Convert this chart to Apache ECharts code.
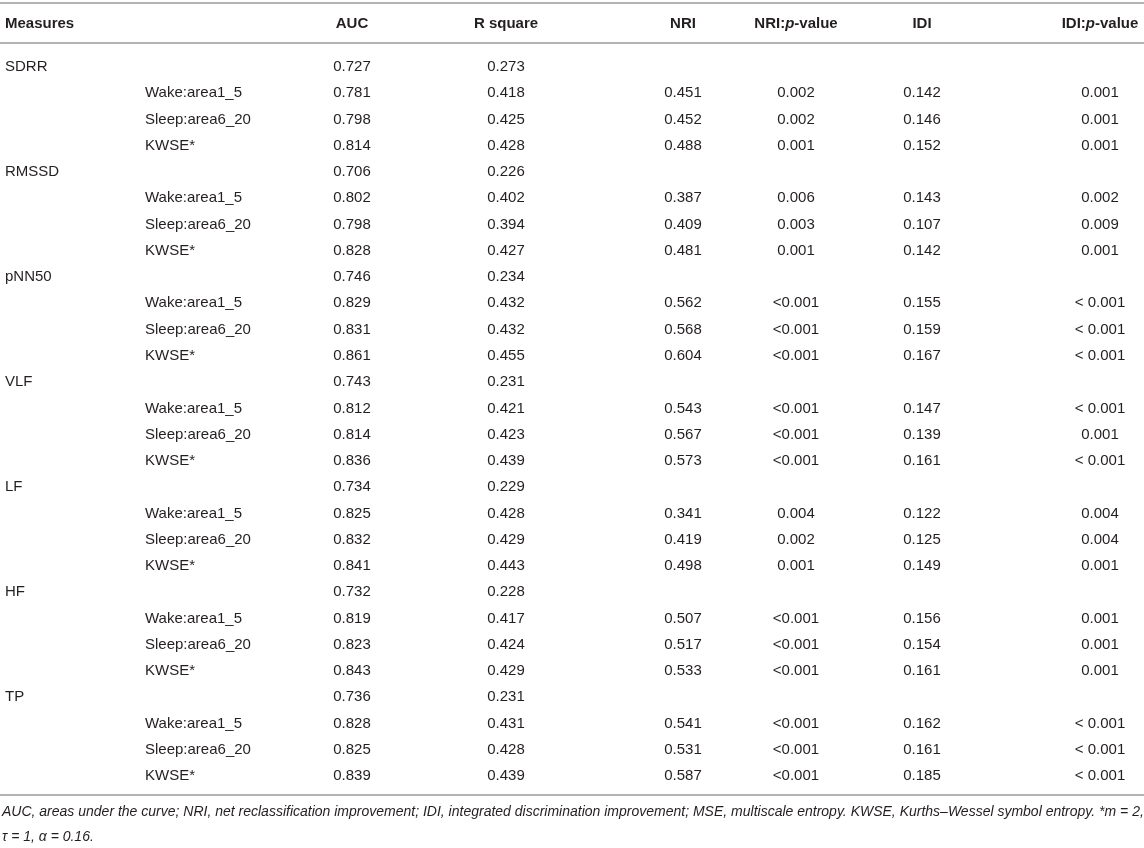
<!DOCTYPE html>
<html>
<head>
<meta charset="utf-8">
<script src="https://cdn.jsdelivr.net/npm/echarts@6/dist/echarts.min.js"></script>
<style>
  html, body { margin: 0; padding: 0; background: #fff; }
  #chart { width: 1144px; height: 848px; }
</style>
</head>
<body>
<div id="chart"></div>
<script>
// table content
var headers = ['Measures', '', 'AUC', 'R square', 'NRI', 'NRI:{i|p}-value', 'IDI', 'IDI:{i|p}-value'];
var measures = ['SDRR', 'RMSSD', 'pNN50', 'VLF', 'LF', 'HF', 'TP'];
var variants = ['Wake:area1_5', 'Sleep:area6_20', 'KWSE*'];

// one row per measure, then its 3 variants
var auc = [
  0.727, 0.781, 0.798, 0.814,
  0.706, 0.802, 0.798, 0.828,
  0.746, 0.829, 0.831, 0.861,
  0.743, 0.812, 0.814, 0.836,
  0.734, 0.825, 0.832, 0.841,
  0.732, 0.819, 0.823, 0.843,
  0.736, 0.828, 0.825, 0.839
];
var rSquare = [
  0.273, 0.418, 0.425, 0.428,
  0.226, 0.402, 0.394, 0.427,
  0.234, 0.432, 0.432, 0.455,
  0.231, 0.421, 0.423, 0.439,
  0.229, 0.428, 0.429, 0.443,
  0.228, 0.417, 0.424, 0.429,
  0.231, 0.431, 0.428, 0.439
];
var nri = [
  null, 0.451, 0.452, 0.488,
  null, 0.387, 0.409, 0.481,
  null, 0.562, 0.568, 0.604,
  null, 0.543, 0.567, 0.573,
  null, 0.341, 0.419, 0.498,
  null, 0.507, 0.517, 0.533,
  null, 0.541, 0.531, 0.587
];
var nriP = [
  null, '0.002', '0.002', '0.001',
  null, '0.006', '0.003', '0.001',
  null, '<0.001', '<0.001', '<0.001',
  null, '<0.001', '<0.001', '<0.001',
  null, '0.004', '0.002', '0.001',
  null, '<0.001', '<0.001', '<0.001',
  null, '<0.001', '<0.001', '<0.001'
];
var idi = [
  null, 0.142, 0.146, 0.152,
  null, 0.143, 0.107, 0.142,
  null, 0.155, 0.159, 0.167,
  null, 0.147, 0.139, 0.161,
  null, 0.122, 0.125, 0.149,
  null, 0.156, 0.154, 0.161,
  null, 0.162, 0.161, 0.185
];
var idiP = [
  null, '0.001', '0.001', '0.001',
  null, '0.002', '0.009', '0.001',
  null, '< 0.001', '< 0.001', '< 0.001',
  null, '< 0.001', '0.001', '< 0.001',
  null, '0.004', '0.004', '0.001',
  null, '0.001', '0.001', '0.001',
  null, '< 0.001', '< 0.001', '< 0.001'
];
var footnote = [
  'AUC, areas under the curve; NRI, net reclassification improvement; IDI, integrated discrimination improvement; MSE, multiscale entropy. KWSE, Kurths\u2013Wessel symbol entropy. *m = 2,',
  '\u03c4 = 1, \u03b1 = 0.16.'
];

// layout: x anchor of each column (px) and alignment
var colX = [5, 145, 352, 506, 683, 796, 922, 1100];
var colAlign = ['left', 'left', 'center', 'center', 'center', 'center', 'center', 'center'];

var FONT = '"Liberation Sans", Arial, Helvetica, sans-serif';
var TEXT = '#231f20';
var RULE = '#b4b4b4';

function fmt(v) {
  if (v === null || v === undefined) return '';
  return typeof v === 'number' ? v.toFixed(3) : v;
}

var rowIds = [];
var cells = [];
measures.forEach(function (m, mi) {
  for (var k = 0; k < 4; k++) {
    var r = mi * 4 + k;
    rowIds.push('r' + r);
    var vals = [k === 0 ? m : '', k === 0 ? '' : variants[k - 1],
      fmt(auc[r]), fmt(rSquare[r]), fmt(nri[r]), fmt(nriP[r]), fmt(idi[r]), fmt(idiP[r])];
    vals.forEach(function (t, c) {
      if (t !== '') cells.push([colX[c], r, t, c]);
    });
  }
});

var headCells = [];
headers.forEach(function (h, c) {
  if (h !== '') headCells.push([colX[c], 0, h, c]);
});

function renderCell(list, bold) {
  return function (params, api) {
    var p = api.coord([api.value(0), api.value(1)]);
    var c = api.value(3);
    return {
      type: 'text',
      x: p[0],
      y: p[1],
      style: {
        text: list[params.dataIndex][2],
        fill: TEXT,
        font: (bold ? 'bold ' : '') + '15px ' + FONT,
        align: colAlign[c],
        verticalAlign: 'middle',
        rich: { i: { fontStyle: 'italic', fontWeight: 'bold', fontSize: 15, fontFamily: FONT, fill: TEXT } }
      }
    };
  };
}

var chart = echarts.init(document.getElementById('chart'));
var rowH = 26.26;
chart.setOption({
  animation: false,
  grid: [
    { left: 0, right: 0, top: 4, height: 39 },
    { left: 0, right: 0, top: 67 - rowH / 2, height: rowH * 28 }
  ],
  xAxis: [
    { gridIndex: 0, type: 'value', min: 0, max: 1144, show: false },
    { gridIndex: 1, type: 'value', min: 0, max: 1144, show: false }
  ],
  yAxis: [
    { gridIndex: 0, type: 'category', data: ['head'], show: false },
    { gridIndex: 1, type: 'category', data: rowIds, inverse: true, show: false }
  ],
  series: [
    {
      type: 'custom',
      xAxisIndex: 0, yAxisIndex: 0,
      data: headCells,
      renderItem: renderCell(headCells, true)
    },
    {
      type: 'custom',
      xAxisIndex: 1, yAxisIndex: 1,
      data: cells,
      renderItem: renderCell(cells, false)
    }
  ],
  graphic: [
    { type: 'rect', shape: { x: 0, y: 2, width: 1144, height: 2 }, style: { fill: RULE } },
    { type: 'rect', shape: { x: 0, y: 42, width: 1144, height: 2 }, style: { fill: RULE } },
    { type: 'rect', shape: { x: 0, y: 794, width: 1144, height: 2 }, style: { fill: RULE } },
    {
      type: 'text', x: 2, y: 812,
      style: { text: footnote[0], font: 'italic 14px ' + FONT, fill: TEXT, verticalAlign: 'middle' }
    },
    {
      type: 'text', x: 2, y: 837,
      style: { text: footnote[1], font: 'italic 14px ' + FONT, fill: TEXT, verticalAlign: 'middle' }
    }
  ]
});
</script>
</body>
</html>
